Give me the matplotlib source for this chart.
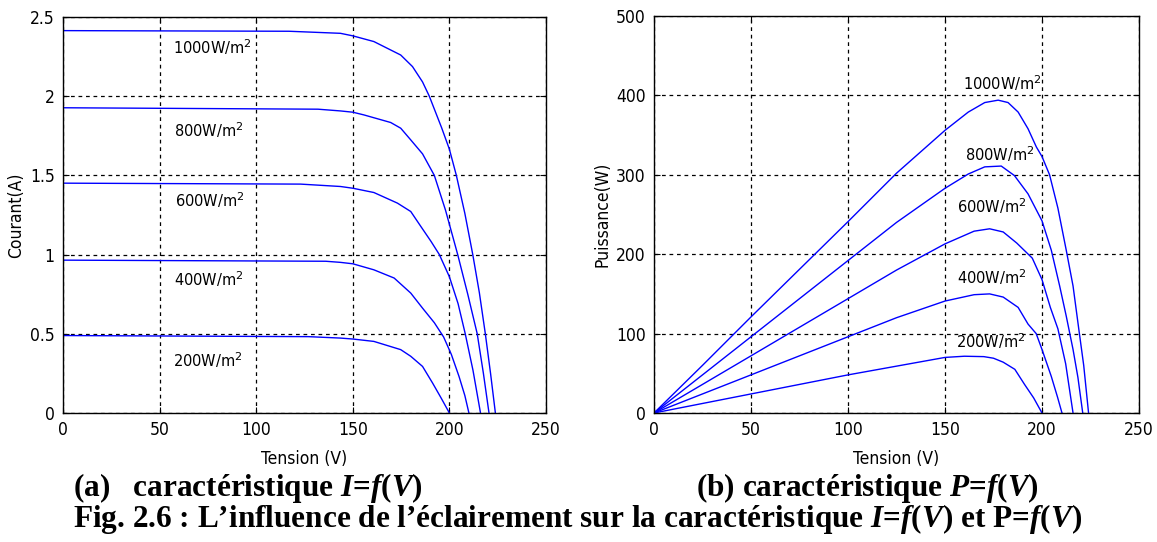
import matplotlib
matplotlib.use("Agg")
import matplotlib.pyplot as plt
from matplotlib import font_manager
from matplotlib.font_manager import FontProperties

# ---------------- data ----------------
irradiance_labels = ["1000W/m$^2$", "800W/m$^2$", "600W/m$^2$", "400W/m$^2$", "200W/m$^2$"]

# I = f(V)
V_iv_1000 = [0, 117, 143.6, 150, 160.9, 174.8, 180.9, 186.1, 189.6, 196, 200, 203.6, 208, 212.1, 215.5, 218.6, 221.3, 223.8]
I_iv_1000 = [2.414, 2.41, 2.397, 2.381, 2.345, 2.26, 2.187, 2.09, 2.0, 1.80, 1.665, 1.5, 1.26, 1.0, 0.76, 0.5, 0.25, 0.0]
V_iv_800 = [0, 132, 143.6, 150, 155.7, 169.6, 174.8, 180, 186.1, 192.2, 198, 204.3, 209.5, 214.4, 217.6, 220.5]
I_iv_800 = [1.927, 1.918, 1.907, 1.899, 1.882, 1.834, 1.798, 1.724, 1.636, 1.5, 1.28, 1.0, 0.75, 0.5, 0.25, 0.0]
V_iv_600 = [0, 123, 143.6, 150, 160.9, 173.1, 180, 185.2, 190.5, 194.8, 200, 204.5, 208.2, 212.2, 216.1]
I_iv_600 = [1.451, 1.445, 1.430, 1.419, 1.392, 1.325, 1.272, 1.178, 1.083, 1.0, 0.86, 0.69, 0.5, 0.27, 0.0]
V_iv_400 = [0, 136, 143.6, 150, 160.9, 171.4, 180, 186.1, 192.2, 197, 201, 205, 208, 210.1]
I_iv_400 = [0.965, 0.958, 0.951, 0.942, 0.904, 0.852, 0.757, 0.662, 0.57, 0.48, 0.37, 0.23, 0.11, 0.0]
V_iv_200 = [0, 127, 143.6, 150, 160.9, 174.8, 180, 186.1, 191.3, 195.7, 200]
I_iv_200 = [0.489, 0.482, 0.473, 0.467, 0.452, 0.40, 0.358, 0.294, 0.189, 0.095, 0.0]

# P = f(V)
V_pv_1000 = [0, 25, 50, 75, 100, 125, 150, 162, 170.5, 177.4, 182.5, 187.7, 192.8, 197.1, 200, 203.9, 208.2, 212.5, 216, 219, 221.5, 224]
P_pv_1000 = [0, 60, 121, 181, 241, 302, 356, 379, 391, 394, 391, 379, 358, 335, 323, 300, 258, 205, 160, 105, 60, 0]
V_pv_800 = [0, 25, 50, 75, 100, 125, 150, 162, 170.5, 179, 185.8, 192.8, 200, 204.8, 209.1, 212.5, 216, 218.5, 221]
P_pv_800 = [0, 48, 96, 144, 192, 240, 283, 301, 310, 311, 299, 276, 242, 205, 160, 122, 80, 45, 0]
V_pv_600 = [0, 25, 50, 75, 100, 125, 150, 165, 173, 180, 187, 195, 200, 204.3, 208.2, 212.2, 216]
P_pv_600 = [0, 36, 72, 108, 144, 180, 213, 229, 232, 228, 214, 195, 168, 133, 106, 62, 0]
V_pv_400 = [0, 25, 50, 75, 100, 125, 150, 165, 173, 180, 187.7, 192.8, 197, 200, 204.8, 208, 210.3]
P_pv_400 = [0, 24, 48, 72, 96, 120, 141, 149, 150, 146, 133, 112, 100, 80, 46, 20, 0]
V_pv_200 = [0, 25, 50, 75, 100, 125, 150, 160, 170, 175, 180, 186, 191, 195.7, 200]
P_pv_200 = [0, 12, 24, 36, 48, 59, 70, 71.5, 71, 69, 64, 55, 36, 19, 0]

iv_curves = [(V_iv_1000, I_iv_1000), (V_iv_800, I_iv_800), (V_iv_600, I_iv_600),
             (V_iv_400, I_iv_400), (V_iv_200, I_iv_200)]
pv_curves = [(V_pv_1000, P_pv_1000), (V_pv_800, P_pv_800), (V_pv_600, P_pv_600),
             (V_pv_400, P_pv_400), (V_pv_200, P_pv_200)]

iv_label_pos = [(56.8, 2.264), (57.2, 1.744), (57.8, 1.302), (57.2, 0.80), (56.8, 0.29)]
pv_label_pos = [(159.5, 407), (160.4, 317.5), (156.4, 252.5), (156.4, 162.8), (155.7, 81.8)]

x_ticks = [0, 50, 100, 150, 200, 250]
iv_yticks = [0, 0.5, 1, 1.5, 2, 2.5]
iv_yticklabels = ["0", "0.5", "1", "1.5", "2", "2.5"]
pv_yticks = [0, 100, 200, 300, 400, 500]

# ---------------- fonts ----------------
narrow_file = None
for f in font_manager.fontManager.ttflist:
    fn = f.fname.replace("\\", "/").split("/")[-1].lower()
    if ("narrow" in fn or "condensed" in fn) and "sans" in fn and "mono" not in fn \
            and "bold" not in fn and "italic" not in fn and "oblique" not in fn \
            and "light" not in fn and "thin" not in fn and "black" not in fn \
            and "medium" not in fn and "extra" not in fn and "semi" not in fn:
        narrow_file = f.fname
        break


def sfont(size):
    if narrow_file:
        fp = FontProperties(fname=narrow_file, size=size)
    else:
        fp = FontProperties(family=["Liberation Sans", "DejaVu Sans"], size=size)
    fp.set_math_fontfamily("dejavusans")
    return fp


plt.rcParams["font.family"] = ["Liberation Sans", "DejaVu Sans"]
plt.rcParams["mathtext.fontset"] = "custom"
plt.rcParams["mathtext.rm"] = "Liberation Serif:bold"
plt.rcParams["mathtext.it"] = "Liberation Serif:italic:bold"
plt.rcParams["mathtext.bf"] = "Liberation Serif:bold"

fig = plt.figure(figsize=(11.57, 5.42), dpi=100)
W, H = 1157, 542
ax1 = fig.add_axes([63 / W, 1 - 413 / H, 483 / W, 396 / H])
ax2 = fig.add_axes([654 / W, 1 - 413 / H, 485 / W, 397 / H])

line_color = (0, 0, 1)
tick_fs = 12.5 if narrow_file else 12
lab_fs = 12.5 if narrow_file else 12
ann_fs = 11.7 if narrow_file else 11


def style(ax):
    ax.grid(True, color="black", linestyle=(0, (3, 3)), linewidth=0.9)
    ax.set_axisbelow(True)
    for s in ax.spines.values():
        s.set_linewidth(1.0)
        s.set_color("black")
    ax.tick_params(direction="in", length=4, width=0.8, top=True, right=True, pad=6)
    ax.set_xlim(0, 250)
    ax.set_xticks(x_ticks)


for (v, i), lab, (tx, ty) in zip(iv_curves, irradiance_labels, iv_label_pos):
    ax1.plot(v, i, color=line_color, linewidth=1.0)
    ax1.text(tx, ty, lab, ha="left", va="baseline", fontproperties=sfont(ann_fs))
style(ax1)
ax1.set_ylim(0, 2.5)
ax1.set_yticks(iv_yticks)
ax1.set_yticklabels(iv_yticklabels)
ax1.set_ylabel("Courant(A)", fontproperties=sfont(lab_fs), labelpad=3)
ax1.set_xlabel("Tension (V)", fontproperties=sfont(lab_fs), labelpad=8)

for (v, p), lab, (tx, ty) in zip(pv_curves, irradiance_labels, pv_label_pos):
    ax2.plot(v, p, color=line_color, linewidth=1.0)
    ax2.text(tx, ty, lab, ha="left", va="baseline", fontproperties=sfont(ann_fs))
style(ax2)
ax2.set_ylim(0, 500)
ax2.set_yticks(pv_yticks)
ax2.set_ylabel("Puissance(W)", fontproperties=sfont(lab_fs), labelpad=3)
ax2.set_xlabel("Tension (V)", fontproperties=sfont(lab_fs), labelpad=8)

for ax in (ax1, ax2):
    for t in ax.get_xticklabels() + ax.get_yticklabels():
        t.set_fontproperties(sfont(tick_fs))

serif = ["Liberation Serif", "DejaVu Serif"]
cap_fs = 22.5
fig.text(73 / W, 1 - 488 / H, r"(a)   caractéristique $I$=$f$($V$)", ha="left", va="center",
         fontsize=cap_fs, fontweight="bold", family=serif)
fig.text(696 / W, 1 - 488 / H, r"(b) caractéristique $P$=$f$($V$)", ha="left", va="center",
         fontsize=cap_fs, fontweight="bold", family=serif)
fig.text(578 / W, 1 - 519 / H,
         r"Fig. 2.6 : L’influence de l’éclairement sur la caractéristique $I$=$f$($V$) et P=$f$($V$)",
         ha="center", va="center", fontsize=cap_fs, fontweight="bold", family=serif)

fig.savefig("out.png", dpi=100, facecolor="white")
